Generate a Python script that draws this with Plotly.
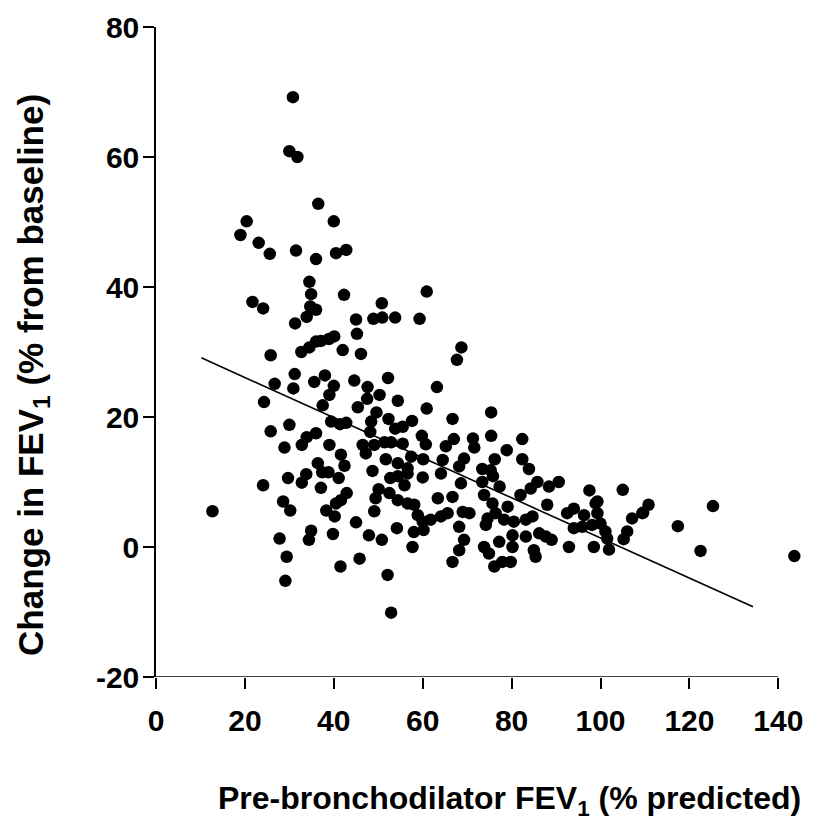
import plotly.graph_objects as go

# Pre-bronchodilator FEV1 (% predicted)
fev_pred = [
    30.8, 30.0, 31.8, 36.5, 20.4, 40.0, 19.0, 23.1, 25.6, 31.5, 36.0, 40.5, 42.8,
    34.5, 34.9, 42.3, 21.7, 24.1, 50.8, 34.7, 36.0, 33.9, 31.3, 45.0, 48.9, 50.9, 53.8,
    45.2, 40.1, 38.9, 37.1, 36.0, 34.5, 32.7, 42.0, 46.1, 25.8, 31.2, 38.0, 35.6, 26.7,
    40.0, 44.6, 52.2, 30.9, 47.6, 39.0, 50.3, 47.5, 54.4, 24.3, 37.5, 45.4, 49.6, 52.3,
    39.4, 41.4, 42.8, 48.4, 48.2, 53.8, 25.8, 30.0, 36.0, 33.9, 39.0, 28.9, 32.8, 46.5,
    49.1, 51.4, 52.9,
    41.6, 36.4, 42.4, 47.2, 51.7, 54.4, 48.7, 33.8, 37.4, 38.8, 29.7, 32.8, 41.1, 52.7,
    54.4, 24.1, 37.1, 50.1, 42.9, 52.5, 49.4, 28.6, 41.6, 40.5, 54.4, 12.7, 30.2, 38.3,
    49.1, 40.2, 45.0, 54.2, 34.9, 39.8, 47.9, 27.8, 34.4, 50.8, 29.4, 45.8, 41.5, 52.1,
    29.1, 52.9,
    60.9, 59.3, 68.7, 67.7, 63.2, 60.9, 66.7, 75.4, 57.6, 55.5, 59.8, 67.0, 71.3, 75.4,
    82.4, 55.5, 60.7, 65.2, 71.6, 78.9,
    76.2, 82.4, 69.3, 68.2, 73.4, 75.3, 83.9, 75.8, 68.6, 73.4, 77.3, 85.8, 90.6, 84.3,
    88.4, 97.5, 105.0, 66.7, 73.8, 82.0,
    57.4, 60.1, 56.6, 56.6, 60.0, 64.1, 64.5, 55.9, 63.4,
    56.6, 58.1, 58.9, 60.0, 61.8, 64.1, 58.0, 60.2, 57.7,
    65.6, 69.0, 70.5, 75.7, 79.1, 88.0, 74.6, 76.4, 78.3, 80.5, 83.2, 84.7, 68.2, 74.2,
    80.2, 83.2, 86.2, 87.7, 89.0, 92.5, 94.0, 96.3, 99.3, 98.9, 94.0, 95.9, 98.1, 100.0,
    101.1, 101.5, 106.0, 105.2, 107.1, 109.4, 92.9, 98.5, 101.9, 69.3, 68.2, 66.7, 73.8,
    74.9, 77.2, 80.2, 85.0, 85.4, 76.1, 77.9, 79.8,
    99.3, 110.8, 109.6, 117.4, 125.3, 122.5, 143.6,
]

# Change in FEV1 (% from baseline)
fev_change = [
    69.2, 60.9, 60.0, 52.8, 50.1, 50.1, 48.0, 46.8, 45.1, 45.6, 44.3, 45.2, 45.7,
    40.8, 38.9, 38.8, 37.7, 36.7, 37.5, 37.0, 36.5, 35.4, 34.4, 35.0, 35.1, 35.3, 35.3,
    32.8, 32.4, 32.0, 31.7, 31.6, 30.7, 30.0, 30.3, 29.7, 29.5, 26.6, 26.4, 25.4, 25.1,
    24.8, 25.6, 26.0, 24.4, 24.6, 23.4, 23.4, 22.8, 22.5, 22.3, 21.8, 21.5, 20.7, 19.7,
    19.3, 18.9, 19.1, 19.3, 17.7, 18.2, 17.8, 18.8, 17.5, 16.9, 15.7, 15.3, 15.7, 15.7,
    15.7, 16.1, 16.1,
    14.2, 12.9, 12.5, 14.4, 13.5, 12.9, 11.7, 11.2, 11.5, 11.5, 10.6, 9.9, 10.6, 10.6,
    10.9, 9.5, 9.1, 8.9, 8.3, 8.3, 7.5, 7.0, 7.2, 6.7, 7.2, 5.5, 5.6, 5.6,
    5.5, 4.7, 3.8, 2.9, 2.5, 2.0, 1.8, 1.3, 1.1, 1.1, -1.5, -1.8, -3.0, -4.3,
    -5.2, -10.1,
    39.3, 35.1, 30.7, 28.8, 24.6, 21.3, 19.7, 20.7, 19.4, 18.5, 17.1, 16.6, 16.7, 17.1,
    16.6, 15.9, 15.8, 15.5, 15.3, 14.9,
    13.5, 13.5, 13.6, 12.4, 12.0, 11.8, 12.0, 10.9, 9.8, 10.0, 9.3, 10.0, 10.0, 9.0,
    9.3, 8.7, 8.8, 7.7, 8.0, 8.0,
    13.9, 13.5, 12.1, 11.3, 10.7, 11.3, 13.4, 9.5, 7.5,
    6.7, 6.5, 4.9, 3.9, 4.2, 4.7, 2.3, 2.6, 0.0,
    5.2, 5.4, 5.2, 6.7, 6.2, 6.5, 4.4, 5.2, 4.2, 3.9, 4.2, 4.7, 3.1, 3.4,
    1.8, 1.6, 2.1, 1.6, 1.1, 5.2, 5.9, 4.9, 5.2, 6.7, 2.9, 3.1, 3.4, 3.6,
    2.4, 1.3, 2.4, 1.2, 4.4, 5.2, 0.0, 0.0, -0.4, 1.1, -0.5, -2.3, 0.0,
    -1.0, 0.8, 0.0, -0.5, -1.5, -3.0, -2.3, -2.3,
    7.0, 6.5, 5.3, 3.2, 6.3, -0.6, -1.4,
]

# Regression line end points
fit_x = [10.2, 134.3]
fit_y = [29.1, -9.2]

x_ticks = [0, 20, 40, 60, 80, 100, 120, 140]
x_tick_labels = ["0", "20", "40", "60", "80", "100", "120", "140"]
y_ticks = [-20, 0, 20, 40, 60, 80]
y_tick_labels = ["-20", "0", "20", "40", "60", "80"]
x_axis_end = 140

FONT = "Liberation Sans, Arial, sans-serif"

fig = go.Figure()
fig.add_trace(go.Scatter(
    x=fev_pred, y=fev_change, mode="markers",
    marker=dict(size=12.5, color="black", line=dict(width=0)),
    showlegend=False,
))
fig.add_trace(go.Scatter(
    x=fit_x, y=fit_y, mode="lines",
    line=dict(color="black", width=1.6),
    showlegend=False,
))

axis_common = dict(
    showgrid=False, zeroline=False, linecolor="black", linewidth=1.5,
    ticks="outside", ticklen=11, tickwidth=1.5, tickcolor="black",
    automargin=False,
    tickfont=dict(family=FONT, size=30, color="black", weight="bold"),
)

fig.update_layout(
    width=831, height=813,
    margin=dict(l=148, r=34, t=19, b=144, autoexpand=False),
    paper_bgcolor="white", plot_bgcolor="white",
    xaxis=dict(range=[0, 146], tickvals=x_ticks, ticktext=x_tick_labels,
               showline=False, ticklabelstandoff=6, **axis_common),
    yaxis=dict(range=[-20, 80], tickvals=y_ticks, ticktext=y_tick_labels,
               showline=True, ticklabelstandoff=-2, **axis_common),
    shapes=[dict(type="line", xref="x", yref="y", x0=0, x1=x_axis_end,
                 y0=y_ticks[0], y1=y_ticks[0],
                 line=dict(color="black", width=1.5))],
    annotations=[
        dict(text="<b>Pre-bronchodilator FEV<sub>1</sub> (% predicted)</b>",
             xref="paper", yref="paper", x=(509 - 156) / 648.7, y=(677 - 800) / 650,
             xanchor="center", yanchor="middle", showarrow=False,
             font=dict(family=FONT, size=32, color="black")),
        dict(text="<b>Change in FEV<sub>1</sub> (% from baseline)</b>",
             xref="paper", yref="paper", x=(33 - 156) / 648.7, y=(677 - 375) / 650,
             xanchor="center", yanchor="middle", showarrow=False, textangle=-90,
             font=dict(family=FONT, size=35, color="black")),
    ],
)

fig.write_html("out.html")
